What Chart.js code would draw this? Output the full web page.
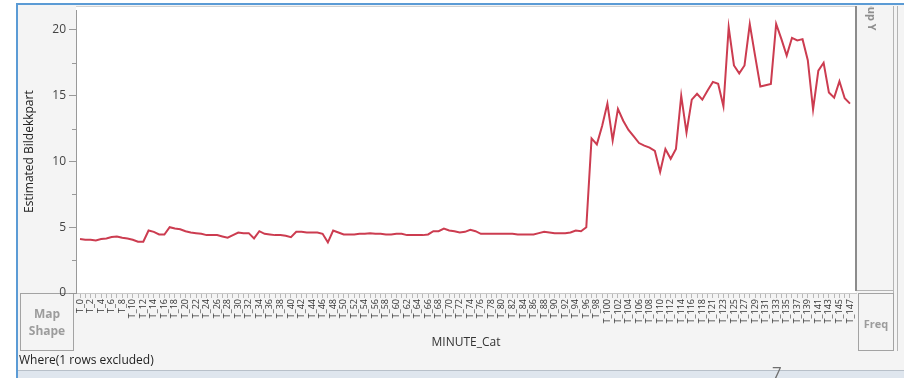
<!DOCTYPE html>
<html>
<head>
<meta charset="utf-8">
<script src="https://cdn.jsdelivr.net/npm/chart.js@4.4.1/dist/chart.umd.min.js"></script>
<style>
  html, body { margin: 0; padding: 0; background: #fff; overflow: hidden; }
  #wrap { width: 904px; height: 378px; position: relative; }
  canvas { display: block; }
</style>
</head>
<body>
<div id="wrap"><canvas id="c" width="904" height="378"></canvas></div>
<script>
// Minute categories (T_120 is the excluded row)
const minuteLabels = [
  'T_0','T_1','T_2','T_3','T_4','T_5','T_6','T_7','T_8','T_9',
  'T_10','T_11','T_12','T_13','T_14','T_15','T_16','T_17','T_18','T_19',
  'T_20','T_21','T_22','T_23','T_24','T_25','T_26','T_27','T_28','T_29',
  'T_30','T_31','T_32','T_33','T_34','T_35','T_36','T_37','T_38','T_39',
  'T_40','T_41','T_42','T_43','T_44','T_45','T_46','T_47','T_48','T_49',
  'T_50','T_51','T_52','T_53','T_54','T_55','T_56','T_57','T_58','T_59',
  'T_60','T_61','T_62','T_63','T_64','T_65','T_66','T_67','T_68','T_69',
  'T_70','T_71','T_72','T_73','T_74','T_75','T_76','T_77','T_78','T_79',
  'T_80','T_81','T_82','T_83','T_84','T_85','T_86','T_87','T_88','T_89',
  'T_90','T_91','T_92','T_93','T_94','T_95','T_96','T_97','T_98','T_99',
  'T_100','T_101','T_102','T_103','T_104','T_105','T_106','T_107','T_108','T_109',
  'T_110','T_111','T_112','T_113','T_114','T_115','T_116','T_117','T_118','T_119',
  'T_121','T_122','T_123','T_124','T_125','T_126','T_127','T_128','T_129',
  'T_130','T_131','T_132','T_133','T_134','T_135','T_136','T_137','T_138','T_139',
  'T_140','T_141','T_142','T_143','T_144','T_145','T_146','T_147'
];

// Estimated Bildekkpart per minute
const bildekkpart = [
  4.1, 4.05, 4.05, 4.0, 4.1, 4.15, 4.25, 4.3, 4.2, 4.15,
  4.05, 3.9, 3.9, 4.75, 4.65, 4.45, 4.45, 5.0, 4.9, 4.85,
  4.7, 4.6, 4.55, 4.5, 4.4, 4.4, 4.4, 4.3, 4.2, 4.4,
  4.6, 4.55, 4.55, 4.15, 4.7, 4.5, 4.45, 4.4, 4.4, 4.35,
  4.25, 4.65, 4.65, 4.6, 4.6, 4.6, 4.5, 3.85, 4.75, 4.6,
  4.45, 4.45, 4.45, 4.5, 4.5, 4.55, 4.5, 4.5, 4.45, 4.45,
  4.5, 4.5, 4.4, 4.4, 4.4, 4.4, 4.45, 4.7, 4.7, 4.9,
  4.75, 4.7, 4.6, 4.65, 4.8, 4.7, 4.5, 4.5, 4.5, 4.5,
  4.5, 4.5, 4.5, 4.45, 4.45, 4.45, 4.45, 4.55, 4.65, 4.6,
  4.55, 4.55, 4.55, 4.6, 4.75, 4.7, 5.0, 11.75, 11.3, 12.7,
  14.4, 11.6, 14.0, 13.1, 12.4, 11.9, 11.4, 11.2, 11.05, 10.8,
  9.2, 10.95, 10.2, 10.95, 15.0, 12.2, 14.7, 15.15, 14.7, 15.4,
  16.05, 15.9, 14.2, 20.2, 17.3, 16.7, 17.3, 20.45, 18.05, 15.7,
  15.8, 15.9, 20.45, 19.3, 18.05, 19.4, 19.2, 19.3, 17.7, 13.95,
  16.9, 17.5, 15.25, 14.85, 16.1, 14.8, 14.4
];

const yMajorTicks = [0, 5, 10, 15, 20];
const yMinorTicks = [2.5, 7.5, 12.5, 17.5];

const FONT = "'Open Sans', 'Noto Sans', sans-serif";
Chart.defaults.font.family = FONT;

// Graph Builder window frame, drop zones and status text
const frame = {
  id: 'frame',
  beforeDraw(chart) {
    const ctx = chart.ctx;
    const a = chart.chartArea;
    ctx.save();
    ctx.fillStyle = '#ffffff';
    ctx.fillRect(0, 0, 904, 378);
    // window body
    ctx.fillStyle = '#f4f4f4';
    ctx.fillRect(17, 4, 887, 366);
    // status strip
    ctx.fillStyle = '#dfe6ee';
    ctx.fillRect(17, 371, 887, 7);
    ctx.fillStyle = '#b8c0c9';
    ctx.fillRect(17, 370, 887, 1);
    // blue selection border
    ctx.fillStyle = '#5b9bd5';
    ctx.fillRect(16, 3, 2, 375);
    ctx.fillRect(16, 3, 888, 2);
    // plot frame
    ctx.fillStyle = '#ffffff';
    ctx.fillRect(a.left, 6, a.right - a.left, a.bottom - 6);
    ctx.fillStyle = '#d2d2d2';
    ctx.fillRect(a.left, 6, a.right - a.left, 1);
    ctx.fillStyle = '#8c8c8c';
    ctx.fillRect(a.right - 1, 6, 2, 285);
    // Group Y zone
    ctx.fillStyle = '#f4f4f4';
    ctx.fillRect(a.right + 1, 6, 36, 284);
    ctx.fillStyle = '#b4b4b4';
    ctx.fillRect(893, 6, 1, 345);
    ctx.fillRect(a.right + 1, 290, 37, 1);
    ctx.fillRect(897, 6, 1, 345);
    ctx.save();
    ctx.beginPath();
    ctx.rect(a.right + 1, 6, 36, 284);
    ctx.clip();
    ctx.translate(871, -13);
    ctx.rotate(Math.PI / 2);
    ctx.fillStyle = '#8f8f8f';
    ctx.font = 'bold 11px ' + FONT;
    ctx.textAlign = 'left';
    ctx.textBaseline = 'middle';
    ctx.fillText('Group Y', 0, 0);
    ctx.restore();
    // Map Shape zone
    ctx.strokeStyle = '#a3a3a3';
    ctx.lineWidth = 1;
    ctx.strokeRect(20.5, 293.5, 53, 57);
    ctx.strokeRect(858.5, 293.5, 35, 57);
    ctx.fillStyle = '#9c9c9c';
    ctx.font = 'bold 12px ' + FONT;
    ctx.textAlign = 'center';
    ctx.textBaseline = 'middle';
    ctx.fillText('Map', 47, 315);
    ctx.fillText('Shape', 47, 332);
    ctx.font = 'bold 11px ' + FONT;
    ctx.fillText('Freq', 876, 325);
    // status text
    ctx.fillStyle = '#222';
    ctx.font = '12px ' + FONT;
    ctx.textAlign = 'left';
    ctx.fillText('Where(1 rows excluded)', 19, 361);
    ctx.fillStyle = '#6f6f6f';
    ctx.font = '17px ' + FONT;
    ctx.fillText('7', 772, 374);
    ctx.restore();
  },
  afterDraw(chart) {
    // minor y ticks
    const ctx = chart.ctx;
    const y = chart.scales.y;
    const left = chart.chartArea.left;
    ctx.save();
    ctx.strokeStyle = '#999';
    ctx.lineWidth = 1;
    yMinorTicks.forEach(v => {
      const py = Math.round(y.getPixelForValue(v)) + 0.5;
      ctx.beginPath();
      ctx.moveTo(left - 4, py);
      ctx.lineTo(left, py);
      ctx.stroke();
    });
    ctx.restore();
  }
};

new Chart(document.getElementById('c'), {
  type: 'line',
  data: {
    datasets: [{
      data: bildekkpart.map((v, i) => ({ x: i, y: v })),
      borderColor: '#cc3c50',
      borderWidth: 2,
      pointRadius: 0,
      tension: 0,
      fill: false
    }]
  },
  options: {
    responsive: false,
    animation: false,
    devicePixelRatio: 1,
    layout: { padding: { left: 18, right: 48, top: 6, bottom: 24 } },
    plugins: { legend: { display: false }, tooltip: { enabled: false } },
    scales: {
      x: {
        type: 'linear',
        min: -0.76,
        max: 147.14,
        afterBuildTicks: s => { s.ticks = minuteLabels.map((_, i) => ({ value: i })); },
        afterFit: s => { s.height = 61; },
        ticks: {
          autoSkip: false,
          minRotation: 90,
          maxRotation: 90,
          padding: 1,
          color: '#333',
          font: { size: 9 },
          callback: (v, i) => (i % 2 === 0 ? minuteLabels[i] : '')
        },
        grid: { drawOnChartArea: false, tickLength: 5, color: '#b8b8b8' },
        border: { display: true, color: '#c8c8c8' },
        title: {
          display: true,
          text: 'MINUTE_Cat',
          color: '#333',
          font: { size: 12 },
          padding: { top: 2, bottom: 4 }
        }
      },
      y: {
        min: 0,
        max: 21.5,
        afterBuildTicks: s => { s.ticks = yMajorTicks.map(v => ({ value: v })); },
        afterFit: s => { s.width = 58; },
        ticks: { color: '#444', font: { size: 12 }, padding: 3, callback: v => String(v) },
        grid: { drawOnChartArea: false, tickLength: 7, color: '#999' },
        border: { display: true, color: '#999' },
        title: {
          display: true,
          text: 'Estimated Bildekkpart',
          color: '#222',
          font: { size: 12 },
          padding: { top: 4, bottom: 0 }
        }
      }
    }
  },
  plugins: [frame]
});
</script>
</body>
</html>
